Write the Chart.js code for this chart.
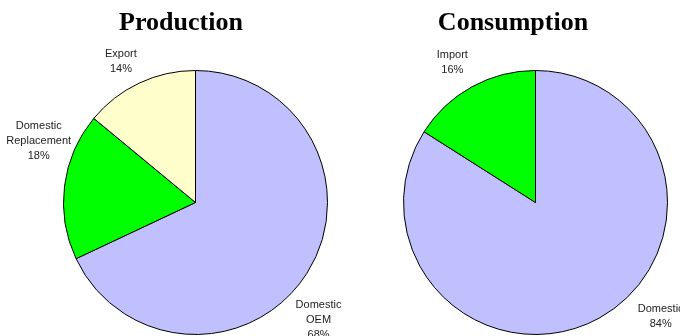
<!DOCTYPE html>
<html>
<head>
<meta charset="utf-8">
<script src="https://cdn.jsdelivr.net/npm/chart.js@4/dist/chart.umd.min.js"></script>
<style>
    html, body { margin: 0; padding: 0; background: #fff; }
    .wrap { position: relative; width: 680px; height: 336px; overflow: hidden; }
    #prod-chart { position: absolute; left: 0; top: 0; }
    #cons-chart { position: absolute; left: 340px; top: 0; }
</style>
</head>
<body>
<div class="wrap">
    <canvas id="prod-chart" width="370" height="336"></canvas>
    <canvas id="cons-chart" width="340" height="336"></canvas>
</div>
<script>
// 생산 (Production)
const prodTitle = 'Production';
const prodLabels = [['Domestic', 'OEM'], ['Domestic', 'Replacement'], ['Export']];
const prodValues = [68, 18, 14];
const prodColors = ['#C0C0FF', '#00FF00', '#FFFFCC'];

// 소비 (Consumption)
const consTitle = 'Consumption';
const consLabels = [['Domestic'], ['Import']];
const consValues = [84, 16];
const consColors = ['#C0C0FF', '#00FF00'];

// 제목 + 라벨 그리는 플러그인
const pieText = {
    id: 'pieText',
    afterDraw(chart, args, opts) {
        const ctx = chart.ctx;
        ctx.save();
        // 제목
        ctx.fillStyle = '#000';
        ctx.font = 'bold 26px "Liberation Serif", "Times New Roman", serif';
        ctx.textAlign = 'center';
        ctx.textBaseline = 'alphabetic';
        ctx.fillText(opts.title, opts.titleX, 30);

        // 라벨
        const meta = chart.getDatasetMeta(0);
        const values = chart.data.datasets[0].data;
        const total = values.reduce((a, b) => a + b, 0);
        ctx.font = '11px "Liberation Sans", Arial, sans-serif';
        ctx.fillStyle = '#222';
        ctx.textBaseline = 'middle';
        meta.data.forEach((arc, i) => {
            const mid = (arc.startAngle + arc.endAngle) / 2;
            const rad = arc.outerRadius + 22;
            const nudge = opts.nudges[i] || [0, 0];
            const cx = arc.x + Math.cos(mid) * rad + nudge[0];
            const cy = arc.y + Math.sin(mid) * rad + nudge[1];
            const lines = chart.data.labels[i].concat([Math.round(values[i] / total * 100) + '%']);
            const lh = opts.lineHeight;
            const top = cy - (lines.length - 1) * lh / 2;
            lines.forEach((t, j) => ctx.fillText(t, cx, top + j * lh));
        });
        ctx.restore();
    }
};

function makePie(id, labels, values, colors, padding, textOpts) {
    const ctx = document.getElementById(id).getContext('2d');
    return new Chart(ctx, {
        type: 'pie',
        data: {
            labels: labels,
            datasets: [{
                data: values,
                backgroundColor: colors,
                borderColor: '#000',
                borderWidth: 1
            }]
        },
        options: {
            responsive: false,
            animation: false,
            layout: { padding: padding },
            plugins: {
                legend: { display: false },
                tooltip: { enabled: false },
                pieText: textOpts
            }
        },
        plugins: [pieText]
    });
}

makePie('prod-chart', prodLabels, prodValues, prodColors,
    { left: 63, right: 42, top: 69, bottom: 0 }, {
    title: prodTitle,
    titleX: 181,
    lineHeight: 15,
    nudges: [[-7, 35], [-4, -42], [-9, -2]]
});

makePie('cons-chart', consLabels, consValues, consColors,
    { left: 63, right: 12, top: 69, bottom: 0 }, {
    title: consTitle,
    titleX: 173,
    lineHeight: 15,
    nudges: [[51, -21], [-9, -5]]
});
</script>
</body>
</html>
